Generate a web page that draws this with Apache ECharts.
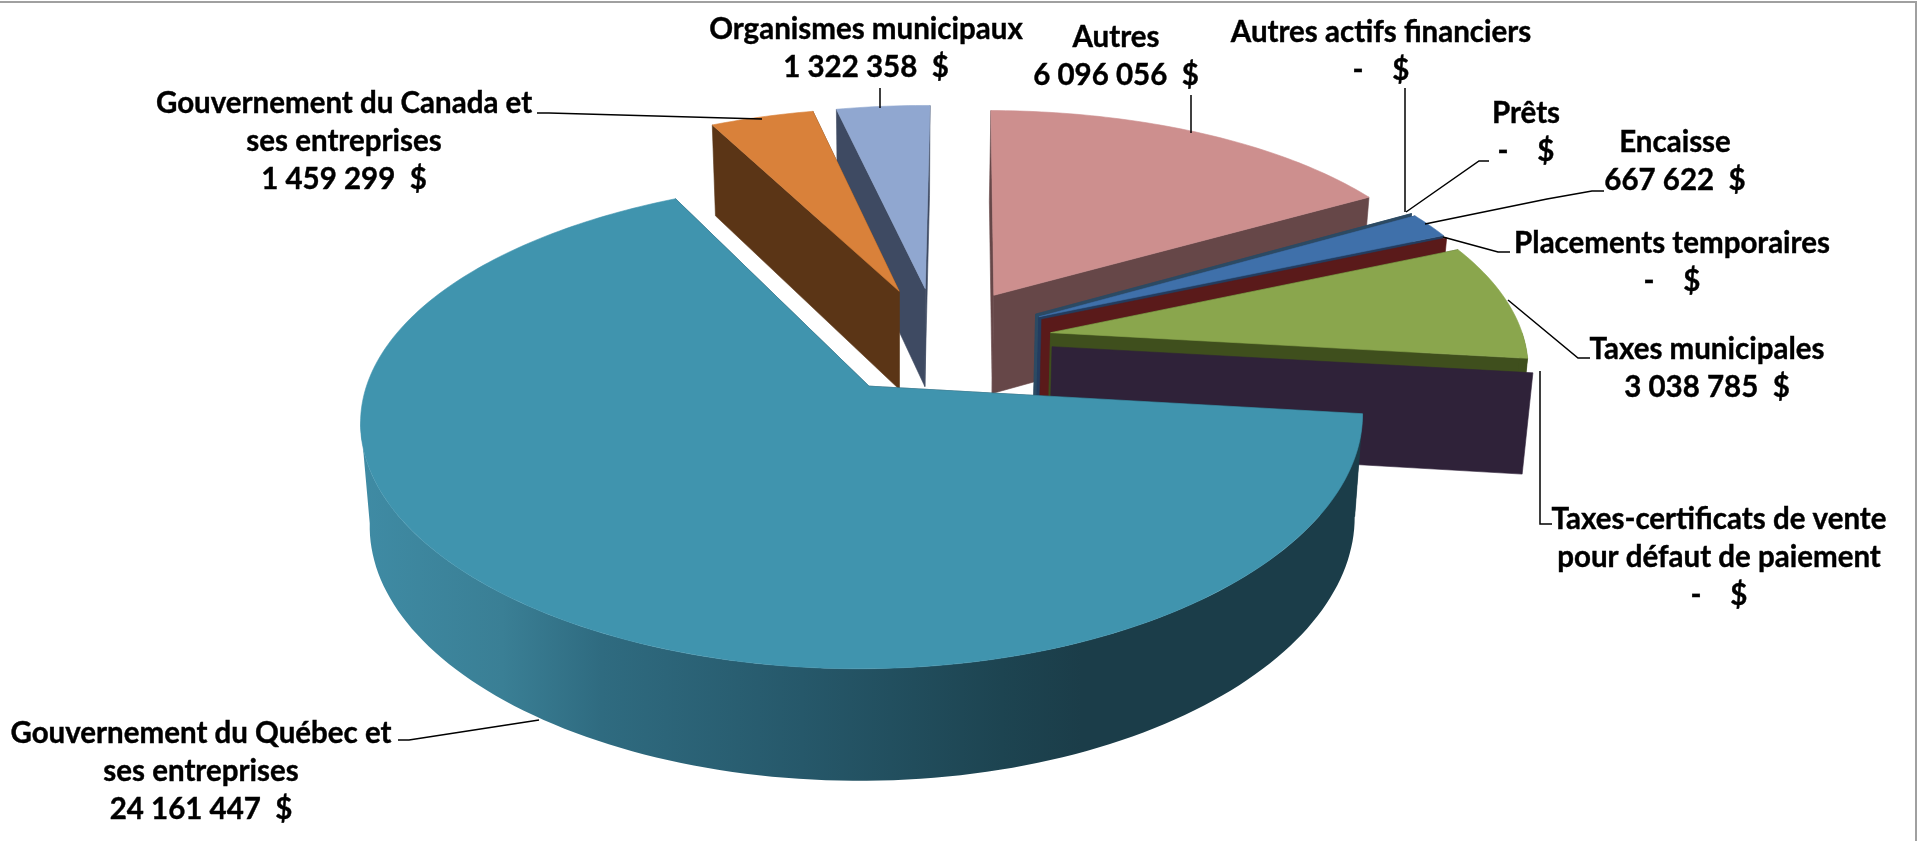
<!DOCTYPE html>
<html><head><meta charset="utf-8">
<style>html,body{margin:0;padding:0;background:#fff}#c{width:1919px;height:841px}</style>
<script src="https://cdn.jsdelivr.net/npm/echarts@6/dist/echarts.min.js"></script>
</head><body><div id="c"></div>
<script>
// Data, clockwise in the pie's own order
const categories = ['Encaisse','Placements temporaires','Taxes municipales','Taxes-certificats de vente\npour défaut de paiement','Gouvernement du Québec et\nses entreprises','Gouvernement du Canada et\nses entreprises','Organismes municipaux','Autres','Autres actifs financiers','Prêts'];
const values = [667622,0,3038785,0,24161447,1459299,1322358,6096056,0,0];
const topColors = ['#3f70aa','#5f1a1a','#8aa64d','#2f2239','#4094ae','#d9813a','#90a7d0','#cd8f8e','#2c4a63','#2c4a63'];
const wallColors = ['#233c5f','#5a1a1a','#3f4f1d','#2f2239','#1b3d49','#5b3516','#3e4a62','#664748','#2c4a63','#2c4a63'];

// Layout of the 3D view
const firstAngle = 60.2, explode = 0.24;
const pieView = {cx:937, cy:340.5, f:482, g:225, kx:0.13, ky:0.15, hx:0.012, depth:100, kd:0.09, baseScale:0.983, baseRef:900, silhouetteAngle:262};
const drawOrder = [7,8,9,0,1,2,3,6,5,4];
const quebecWallStops = [[0,'#3f8ba4'],[0.14,'#3a7f95'],[0.24,'#2f6b80'],[0.44,'#26586a'],[0.64,'#1d4451'],[0.72,'#1b3d49'],[1,'#1b3d49']];
const labelCenters = [[1675,161],[1672,262],[1707,368],[1719,557],[201,771],[344,141],[866,48],[1116,56],[1381,51],[1526,132]];
const leaders = [
 [[1425,224],[1547,199],[1592,191],[1604,191]],
 [[1443,237],[1498,252],[1510,252]],
 [[1508,300],[1578,358],[1590,358]],
 [[1540,371],[1540,524],[1552,524]],
 [[539,720],[409,740],[398,740]],
 [[762,119],[549,113],[537,113]],
 [[880,88],[880,108]],
 [[1191,95],[1191,133]],
 [[1405,88],[1405,212]],
 [[1406,212],[1479,161],[1489,161]]
];

const total = values.reduce((a,b)=>a+b,0);
const rad = d => d*Math.PI/180;
const angles = [];
{ let a = firstAngle;
  values.forEach(v => { const s = v/total*360; angles.push([a,a+s]); a += s; }); }

function slicePoint(ax, ay, theta){
  return [ax+Math.sin(rad(theta)), ay+Math.cos(rad(theta))];
}
function topAt(p){
  return [pieView.cx+pieView.f*p[0]/(1+pieView.kx*p[1]+pieView.hx*p[0]), pieView.cy-pieView.g*p[1]/(1+pieView.ky*p[1])];
}
function baseAt(p){
  const t = topAt(p);
  return [pieView.baseRef+(t[0]-pieView.baseRef)*pieView.baseScale, t[1]+pieView.depth/(1+pieView.kd*p[1])];
}
function fmt(v){
  if(!v) return '-    $';
  return String(v).replace(/\B(?=(\d{3})+$)/g,' ')+'  $';
}
function poly(points, fill, z2){
  return {type:'polygon', z2, silent:true, shape:{points}, style:{fill, stroke:fill, lineWidth:0.6}};
}
function renderSlice(params, api){
  const i = api.value(0);
  const z = params.dataIndex*10;
  const [s,e] = angles[i];
  const m = (s+e)/2;
  const ax = explode*Math.sin(rad(m)), ay = explode*Math.cos(rad(m));
  const apex = [ax,ay];
  const wall = wallColors[i];
  const children = [];
  const radial = t => {
    const r = slicePoint(ax,ay,t);
    return [topAt(apex),topAt(r),baseAt(r),baseAt(apex)];
  };
  if(e-s < 1e-6){
    children.push(poly(radial(s),wall,z+1));
  } else {
    const startFront = Math.sin(rad(s))<0;
    children.push(poly(radial(startFront?e:s),wall,z+1));
    children.push(poly(radial(startFront?s:e),wall,z+2));
    // outer curved wall, from the right side to the left silhouette
    const from = Math.max(s,90), to = Math.min(e,pieView.silhouetteAngle);
    if(to>from){
      const up=[],down=[];
      for(let t=from;t<=to+1e-6;t+=(to-from)/120){
        const r = slicePoint(ax,ay,t);
        up.push(topAt(r)); down.unshift(baseAt(r));
      }
      const fill = i===4 ? new echarts.graphic.LinearGradient(362,0,1362,0,quebecWallStops.map(c=>({offset:c[0],color:c[1]})),true) : wall;
      children.push({type:'polygon',z2:z+3,silent:true,shape:{points:up.concat(down)},style:{fill}});
    }
    // top face
    const pts=[topAt(apex)];
    const span=e-s, n=Math.max(8,Math.ceil(span));
    for(let k=0;k<=n;k++) pts.push(topAt(slicePoint(ax,ay,s+span*k/n)));
    children.push(poly(pts,topColors[i],z+4));
  }
  return {type:'group',children};
}
function renderLabel(params, api){
  const i = api.value(0);
  const c = labelCenters[i];
  return {type:'group',children:[
    {type:'polyline',silent:true,shape:{points:leaders[i]},style:{stroke:'#000',lineWidth:1.5,fill:null}},
    {type:'text',silent:true,x:c[0],y:c[1],style:{
      text:categories[i]+'\n'+fmt(values[i]),
      fill:'#000',stroke:'#000',lineWidth:0.4,fontFamily:'Lato',fontWeight:'bold',fontSize:29.5,lineHeight:38,align:'center',verticalAlign:'middle'}}
  ]};
}
const chart = echarts.init(document.getElementById('c'),null,{renderer:'canvas'});
chart.setOption({
  animation:false,
  backgroundColor:'#fff',
  graphic:[
    {type:'polyline',silent:true,shape:{points:[[0,2],[1916,2],[1916,841]]},style:{stroke:'#a0a0a0',lineWidth:2,fill:null}}
  ],
  series:[
    {type:'custom',coordinateSystem:'none',silent:true,renderItem:renderSlice,z:1,
     data:drawOrder.map(i=>({name:categories[i],value:[i,values[i]]}))},
    {type:'custom',coordinateSystem:'none',silent:true,renderItem:renderLabel,z:2,
     data:categories.map((n,i)=>({name:n,value:[i,values[i]]}))}
  ]
});
</script></body></html>
